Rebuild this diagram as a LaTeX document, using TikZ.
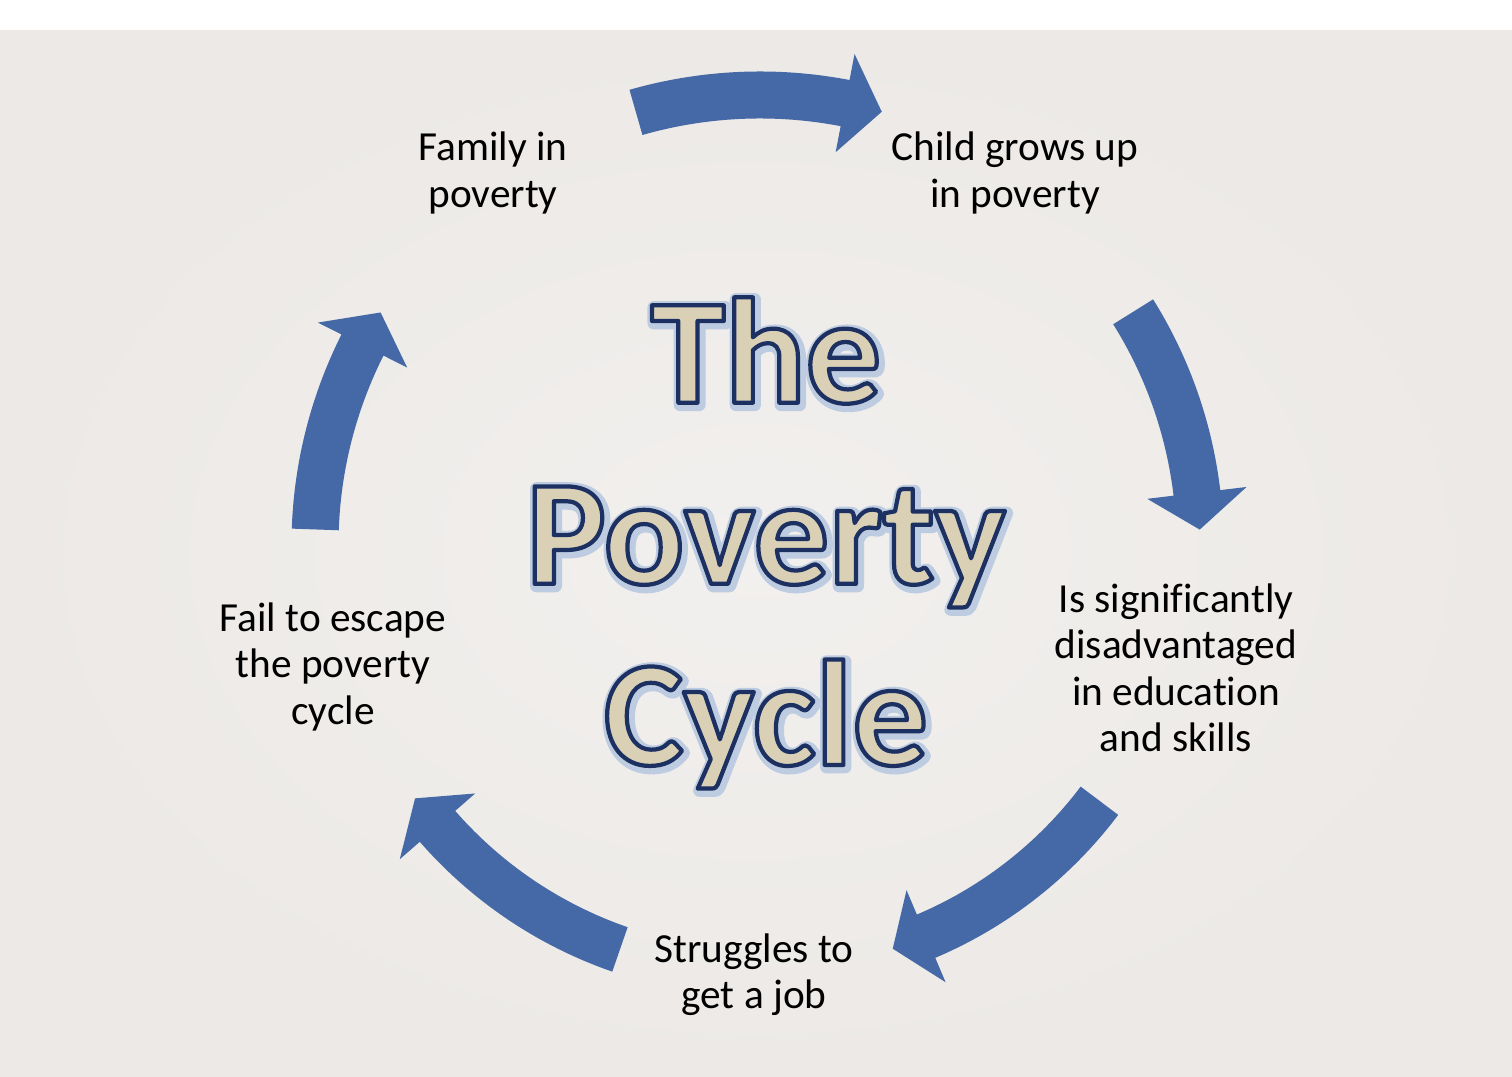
\documentclass[tikz,border=0pt]{standalone}
\usepackage{fontspec}
\setmainfont{Carlito}[Ligatures=NoCommon]
\usetikzlibrary{positioning}

\definecolor{arrowblue}{RGB}{69,104,166}
\definecolor{titlefill}{RGB}{217,208,182}
\definecolor{bggrey}{RGB}{236,233,230}
\definecolor{bglight}{RGB}{242,240,238}

% outlined title word: soft blue-grey shadow below, then beige fill with a dark navy stroke
\newcommand{\titleword}[1]{\rlap{\kern0.5pt\raisebox{-0.6pt}{\special{pdf:code 0.74 0.80 0.88 RG 0.74 0.80 0.88 rg 3.6 w 1 j 2 Tr}#1}}\special{pdf:code 0.11 0.19 0.384 RG 0.851 0.816 0.714 rg 1.2 w 1 j 2 Tr}#1\special{pdf:code 0 Tr}}

\begin{document}
\begin{tikzpicture}[x=0.01cm,y=0.01cm,
		stage/.style={align=center,font=\fontsize{11.75}{13.2}\selectfont},
		bigtitle/.style={align=center,text=titlefill,font=\fontsize{42.7}{51.5}\selectfont\bfseries}]
		\useasboundingbox (0,0) rectangle (1512,1077);
		\fill[white] (0,0) rectangle (1512,1077);
		\shade[inner color=bglight,outer color=bggrey] (0,0) rectangle (1512,1046);
		% curved block arrows round the cycle
		\begin{scope}[shift={(760,532)}]
		\foreach \tail/\tip/\r in {106/74.3/450,32/2/440,-37/-71.8/425,-109.1/-143.7/428,178/148.5/445}{
			\pgfmathsetmacro\neck{\tip+4.8}
			\pgfmathsetmacro\ro{\r+23.5}
			\pgfmathsetmacro\ri{\r-23.5}
			\pgfmathsetmacro\wo{\r+50}
			\pgfmathsetmacro\wi{\r-50}
			\fill[arrowblue] (\tail:\ro) arc[start angle=\tail,end angle=\neck,radius=\ro] -- (\neck:\wo) -- (\tip:\r) -- (\neck:\wi) -- (\neck:\ri) arc[start angle=\neck,end angle=\tail,radius=\ri] -- cycle;
		}
		\end{scope}
		\node[stage] (family) at (493,904) {Family in\\poverty};
		\node[stage] (child) at (1015,904) {Child grows up\\in poverty};
		\node[stage] (disadv) at (1176,409) {Is significantly\\disadvantaged\\in education\\and skills};
		\node[stage] (struggle) at (754,102) {Struggles to\\get a job};
		\node[stage] (fail) at (333,410) {Fail to escape\\the poverty\\cycle};
		\node[bigtitle] (title) at (766,533) {\titleword{The}\\\titleword{Poverty}\\\titleword{Cycle}};
\end{tikzpicture}
\end{document}
